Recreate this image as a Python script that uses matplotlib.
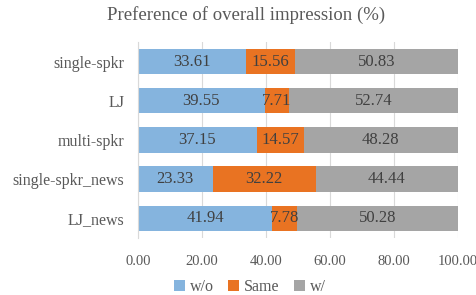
import numpy as np
import matplotlib.pyplot as plt

plt.rcParams['font.family'] = ['Liberation Serif', 'DejaVu Serif']

categories = ['single-spkr', 'LJ', 'multi-spkr', 'single-spkr_news', 'LJ_news']
wo = [33.61, 39.55, 37.15, 23.33, 41.94]
same = [15.56, 7.71, 14.57, 32.22, 7.78]
w = [50.83, 52.74, 48.28, 44.44, 50.28]

series = [('w/o', wo, '#85B4DE'), ('Same', same, '#E97322'), ('w/', w, '#A5A5A5')]

fig = plt.figure(figsize=(4.77, 2.95), dpi=100)
ax = fig.add_axes([0.2893, 0.193, 0.671, 0.665])

y = np.arange(len(categories))
left = np.zeros(len(categories))
for name, vals, col in series:
    vals = np.array(vals)
    ax.barh(y, vals, left=left, height=0.65, color=col, label=name, zorder=2)
    for yi, l, v in zip(y, left, vals):
        ax.text(l + v / 2, yi, f'{v:.2f}', ha='center', va='center',
                fontsize=12, color='#404040', zorder=3)
    left = left + vals

ax.set_xlim(0, 100)
ax.set_ylim(len(categories) - 0.5, -0.5)
ax.set_xticks(np.arange(0, 101, 20))
ax.set_xticklabels([f'{t:.2f}' for t in np.arange(0, 101, 20)])
ax.set_yticks(y)
ax.set_yticklabels(categories)
ax.tick_params(axis='x', length=0, labelsize=10.5, colors='#595959', pad=12)
ax.tick_params(axis='y', length=0, labelsize=11.5, colors='#595959', pad=10)
ax.grid(axis='x', color='#D9D9D9', linewidth=0.8, zorder=0)
for s in ['top', 'right', 'bottom']:
    ax.spines[s].set_visible(False)
ax.spines['left'].set_color('#D9D9D9')

fig.suptitle('Preference of overall impression (%)', x=0.515, y=0.98,
             fontsize=13.5, color='#595959')

fig.legend(loc='center', bbox_to_anchor=(0.524, 0.027), ncol=3, frameon=False,
           fontsize=11.5, handlelength=0.7, handleheight=0.7, handletextpad=0.3,
           columnspacing=0.9, labelcolor='#595959', borderpad=0)

fig.savefig('out.png', dpi=100)
